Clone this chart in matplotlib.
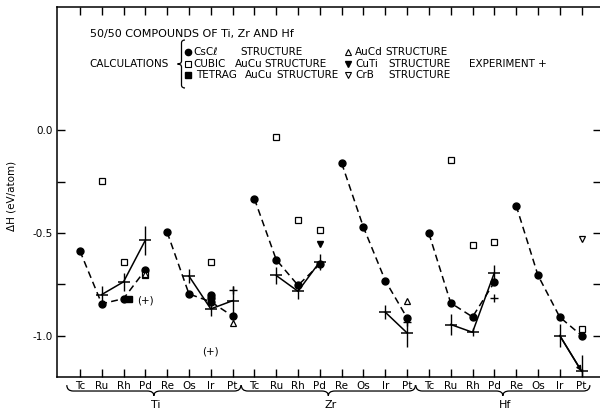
import numpy as np
import matplotlib
matplotlib.use('Agg')
from matplotlib import pyplot as plt
from matplotlib import transforms
from matplotlib.path import Path
from matplotlib.patches import PathPatch
from matplotlib.ticker import FixedLocator

plt.rcParams['font.family'] = ['DejaVu Sans']
plt.rcParams['axes.unicode_minus'] = False

nan = np.nan
elements = ['Tc', 'Ru', 'Rh', 'Pd', 'Re', 'Os', 'Ir', 'Pt']
hosts = ['Ti', 'Zr', 'Hf']

# CsCl structure calculations (dashed curves)
cscl_ti = [-0.587, -0.845, -0.82, -0.68, -0.496, -0.797, -0.835, -0.905]
cscl_zr = [-0.333, -0.63, -0.755, -0.652, -0.159, -0.472, -0.732, -0.914]
cscl_hf = [-0.502, -0.841, -0.909, -0.74, -0.366, -0.706, -0.91, -1.0]
cscl_extra_host = ['Ti', 'Ti']
cscl_extra_elem = ['Ir', 'Ir']
cscl_extra_val = [-0.80, -0.815]

# experiment (solid curves), error half-widths
exp_ti = [nan, -0.80, -0.738, -0.535, nan, -0.71, -0.87, -0.83]
exp_zr = [nan, -0.707, -0.784, -0.64, nan, nan, -0.886, -0.987]
exp_hf = [nan, -0.946, -0.984, -0.694, nan, nan, -1.0, -1.174]
err_ti = [0, 0.04, 0.045, 0.07, 0, 0.035, 0.035, 0.07]
err_zr = [0, 0.04, 0.04, 0.04, 0, 0, 0.035, 0.07]
err_hf = [0, 0.05, 0.02, 0.04, 0, 0, 0.055, 0.08]
exp2_host = ['Ti', 'Zr', 'Hf']
exp2_elem = ['Pt', 'Pt', 'Pd']
exp2_val = [-0.776, -0.935, -0.816]
paren_host = ['Ti', 'Ti']
paren_elem = ['Pd', 'Ir']
paren_val = [-0.83, -1.077]

# other structures
cubic_host = ['Ti', 'Ti', 'Ti', 'Ti', 'Zr', 'Zr', 'Zr', 'Hf', 'Hf', 'Hf', 'Hf']
cubic_elem = ['Ru', 'Rh', 'Pd', 'Ir', 'Ru', 'Rh', 'Pd', 'Ru', 'Rh', 'Pd', 'Pt']
cubic_val = [-0.247, -0.64, -0.705, -0.64, -0.033, -0.437, -0.486,
             -0.143, -0.558, -0.546, -0.967]
tetrag_host = ['Ti']
tetrag_elem = ['Rh']
tetrag_val = [-0.82]
aucd_host = ['Ti', 'Ti', 'Zr']
aucd_elem = ['Pd', 'Pt', 'Pt']
aucd_val = [-0.70, -0.94, -0.83]
cuti_host = ['Zr']
cuti_elem = ['Pd']
cuti_val = [-0.553]
crb_host = ['Hf']
crb_elem = ['Pt']
crb_val = [-0.528]


def pos(h, e):
    return hosts.index(h) * len(elements) + elements.index(e)


def brace_path(a0, a1, c_end, c_mid, c_tip, d, vertical=False):
    m = (a0 + a1) / 2.0
    pts = [(a0, c_end), (a0, c_mid), (a0 + d, c_mid), (m - d, c_mid),
           (m, c_mid), (m, c_tip), (m, c_mid), (m + d, c_mid),
           (a1 - d, c_mid), (a1, c_mid), (a1, c_end)]
    codes = [Path.MOVETO, Path.CURVE3, Path.CURVE3, Path.LINETO,
             Path.CURVE3, Path.CURVE3, Path.CURVE3, Path.CURVE3,
             Path.LINETO, Path.CURVE3, Path.CURVE3]
    if vertical:
        pts = [(c, a) for a, c in pts]
    return Path(pts, codes)


fig = plt.figure(figsize=(6, 4.12), dpi=100)
ax = fig.add_axes([57 / 600, 35.4 / 412, 544 / 600, 369.6 / 412])
ax.set_xlim(-1.05, 23.89)
ax.set_ylim(-1.2, 0.602)

dash = (0, (4.5, 2.8))
lw = 1.1
for h, vals, ev, er in zip(hosts, [cscl_ti, cscl_zr, cscl_hf],
                           [exp_ti, exp_zr, exp_hf], [err_ti, err_zr, err_hf]):
    x = np.array([pos(h, e) for e in elements])
    vals = np.array(vals)
    ev = np.array(ev)
    for half in (slice(0, 4), slice(4, 8)):
        ax.plot(x[half], vals[half], color='k', lw=lw, ls=dash)
        ax.plot(x[half], ev[half], color='k', lw=lw)
    ax.plot(x, vals, ls='none', marker='o', ms=5, color='k')
    ax.errorbar(x, ev, yerr=er, fmt='none', ecolor='k', elinewidth=1.0, capsize=0)
    ax.plot(x, ev, ls='none', marker='_', ms=8, mew=1.1, color='k')

# arrow Hf Ir -> Pt
ax.annotate('', xy=(pos('Hf', 'Pt'), exp_hf[7]), xytext=(pos('Hf', 'Ir'), exp_hf[6]),
            arrowprops=dict(arrowstyle='-|>', lw=lw, color='k',
                            mutation_scale=7, shrinkA=0, shrinkB=0))

ax.plot([pos(h, e) for h, e in zip(cscl_extra_host, cscl_extra_elem)], cscl_extra_val,
        ls='none', marker='o', ms=5, color='k')
ax.plot([pos(h, e) for h, e in zip(exp2_host, exp2_elem)], exp2_val,
        ls='none', marker='+', ms=6, mew=1.0, color='k')
ax.plot([pos(h, e) for h, e in zip(cubic_host, cubic_elem)], cubic_val,
        ls='none', marker='s', ms=4.2, mew=0.9, mfc='white', mec='k')
ax.plot([pos(h, e) + 0.25 for h, e in zip(tetrag_host, tetrag_elem)], tetrag_val,
        ls='none', marker='s', ms=4.5, color='k')
ax.plot([pos(h, e) for h, e in zip(aucd_host, aucd_elem)], aucd_val,
        ls='none', marker='^', ms=5, mew=0.9, mfc='none', mec='k')
ax.plot([pos(h, e) for h, e in zip(cuti_host, cuti_elem)], cuti_val,
        ls='none', marker='v', ms=5, color='k')
ax.plot([pos(h, e) for h, e in zip(crb_host, crb_elem)], crb_val,
        ls='none', marker='v', ms=5, mew=0.9, mfc='none', mec='k')
for h, e, v in zip(paren_host, paren_elem, paren_val):
    ax.text(pos(h, e), v, '(+)', ha='center', va='center', fontsize=7.5)

# axes styling
ax.set_xticks(range(len(hosts) * len(elements)))
ax.set_xticklabels(elements * len(hosts))
ax.yaxis.set_major_locator(FixedLocator([-1.0, -0.5, 0.0]))
ax.set_yticklabels(['-1.0', '-0.5', '0.0'])
ax.yaxis.set_minor_locator(FixedLocator([-0.75, -0.25]))
ax.tick_params(which='both', direction='in', length=6, width=1.0,
               top=True, right=True, labelsize=7.5, pad=3)
for s in ax.spines.values():
    s.set_linewidth(1.1)

# group braces under the x axis
bt = transforms.blended_transform_factory(ax.transData, ax.transAxes)
for k, h in enumerate(hosts):
    a0 = k * len(elements) - 0.6
    a1 = k * len(elements) + len(elements) - 0.6 - 0.02
    ax.add_patch(PathPatch(brace_path(a0, a1, -0.023, -0.039, -0.052, 0.3),
                           transform=bt, fill=False, lw=0.9, clip_on=False))
    ax.text(k * len(elements) + 3.5, -0.078, h, transform=bt, ha='center',
            va='center', fontsize=8)

# overlay in pixel coordinates for header / legend
ov = fig.add_axes([0, 0, 1, 1], zorder=5)
ov.set_xlim(0, 600)
ov.set_ylim(412, 0)
ov.axis('off')
fs = 7.5
ov.text(12, 196, 'ΔH (eV/atom)', rotation=90, ha='center', va='center', fontsize=fs)
ov.text(90, 34, '50/50 COMPOUNDS OF Ti, Zr AND Hf', va='center', fontsize=8)
ov.text(89, 63.5, 'CALCULATIONS', va='center', fontsize=fs)
ov.add_patch(PathPatch(brace_path(40, 88, 185, 181.5, 177.5, 3, vertical=True),
                       fill=False, lw=0.9))
rows = [51.5, 63.5, 75]
ov.plot([188], [rows[0]], marker='o', ms=4.5, color='k')
ov.plot([188], [rows[1]], marker='s', ms=3.8, mew=0.8, mfc='white', mec='k')
ov.plot([188], [rows[2]], marker='s', ms=4.2, color='k')
ov.plot([348], [rows[0]], marker='^', ms=4.5, mew=0.8, mfc='none', mec='k')
ov.plot([348], [rows[1]], marker='v', ms=4.5, color='k')
ov.plot([348], [rows[2]], marker='v', ms=4.5, mew=0.8, mfc='none', mec='k')
words = [(193, 0, 'CsCℓ'), (240, 0, 'STRUCTURE'),
         (193, 1, 'CUBIC'), (235, 1, 'AuCu'), (264, 1, 'STRUCTURE'),
         (196, 2, 'TETRAG'), (245, 2, 'AuCu'), (276, 2, 'STRUCTURE'),
         (355, 0, 'AuCd'), (385, 0, 'STRUCTURE'),
         (355, 1, 'CuTi'), (388, 1, 'STRUCTURE'),
         (355, 2, 'CrB'), (388, 2, 'STRUCTURE'),
         (469, 1, 'EXPERIMENT +')]
for xw, r, w in words:
    ov.text(xw, rows[r], w, va='center', fontsize=fs)

fig.savefig('out.png', dpi=100)
